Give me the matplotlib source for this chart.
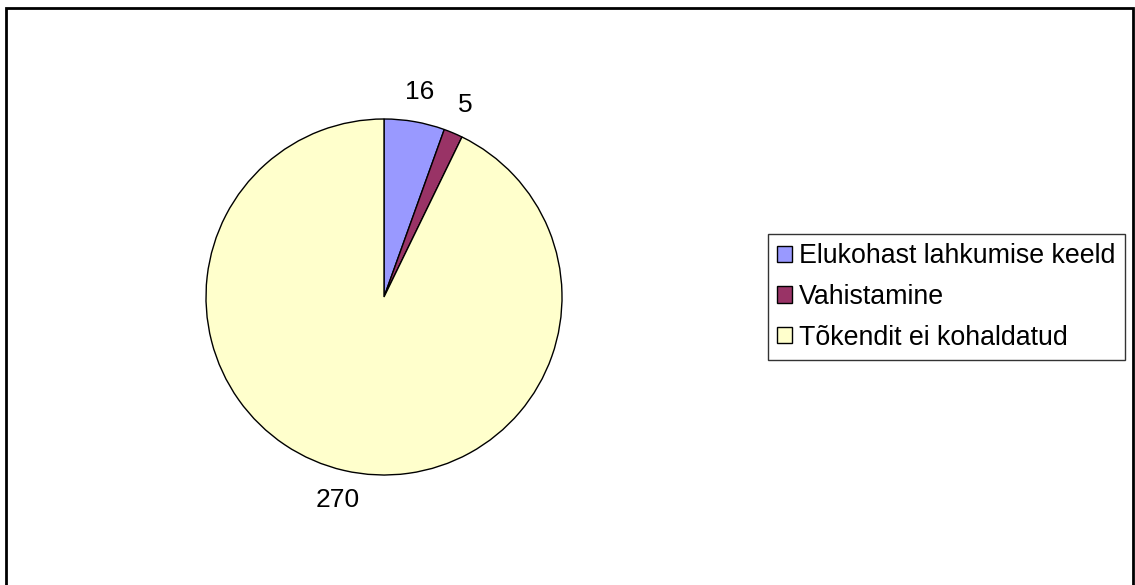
import matplotlib.pyplot as plt
from matplotlib.patches import Rectangle

plt.rcParams['font.family'] = ['Liberation Sans', 'DejaVu Sans']

categories = ["Elukohast lahkumise keeld", "Vahistamine", "Tõkendit ei kohaldatud"]
values = [16, 5, 270]
colors = ["#9999FF", "#993366", "#FFFFCC"]

W, H = 1135, 585
fig = plt.figure(figsize=(W / 100, H / 100), dpi=100)

# pie centre ~ (384, 297) px, radius ~178 px
cx, cy, r = 384, 297, 178
ax = fig.add_axes([(cx - r) / W, (H - cy - r) / H, 2 * r / W, 2 * r / H])
wedges, texts = ax.pie(values, labels=[str(v) for v in values], colors=colors,
                       startangle=90, counterclock=False, labeldistance=1.17,
                       wedgeprops={'edgecolor': 'black', 'linewidth': 1},
                       textprops={'ha': 'center', 'fontsize': 19})
ax.set_xlim(-1, 1)
ax.set_ylim(-1, 1)
ax.set_aspect('equal')
ax.axis('off')

leg = fig.legend(wedges, categories, loc='center left',
                 bbox_to_anchor=(768 / W, 1 - 297 / H), fontsize=19.3,
                 frameon=True, fancybox=False, edgecolor='black',
                 handlelength=0.55, handleheight=0.55, handletextpad=0.25,
                 labelspacing=0.55, borderpad=0.35, borderaxespad=0)
leg.get_frame().set_linewidth(1)

fig.patches.append(Rectangle((6 / W, -0.02), (1133 - 6) / W, (H - 8) / H + 0.02,
                             transform=fig.transFigure, fill=False,
                             edgecolor='black', linewidth=2))

fig.savefig("out.png", dpi=100)
